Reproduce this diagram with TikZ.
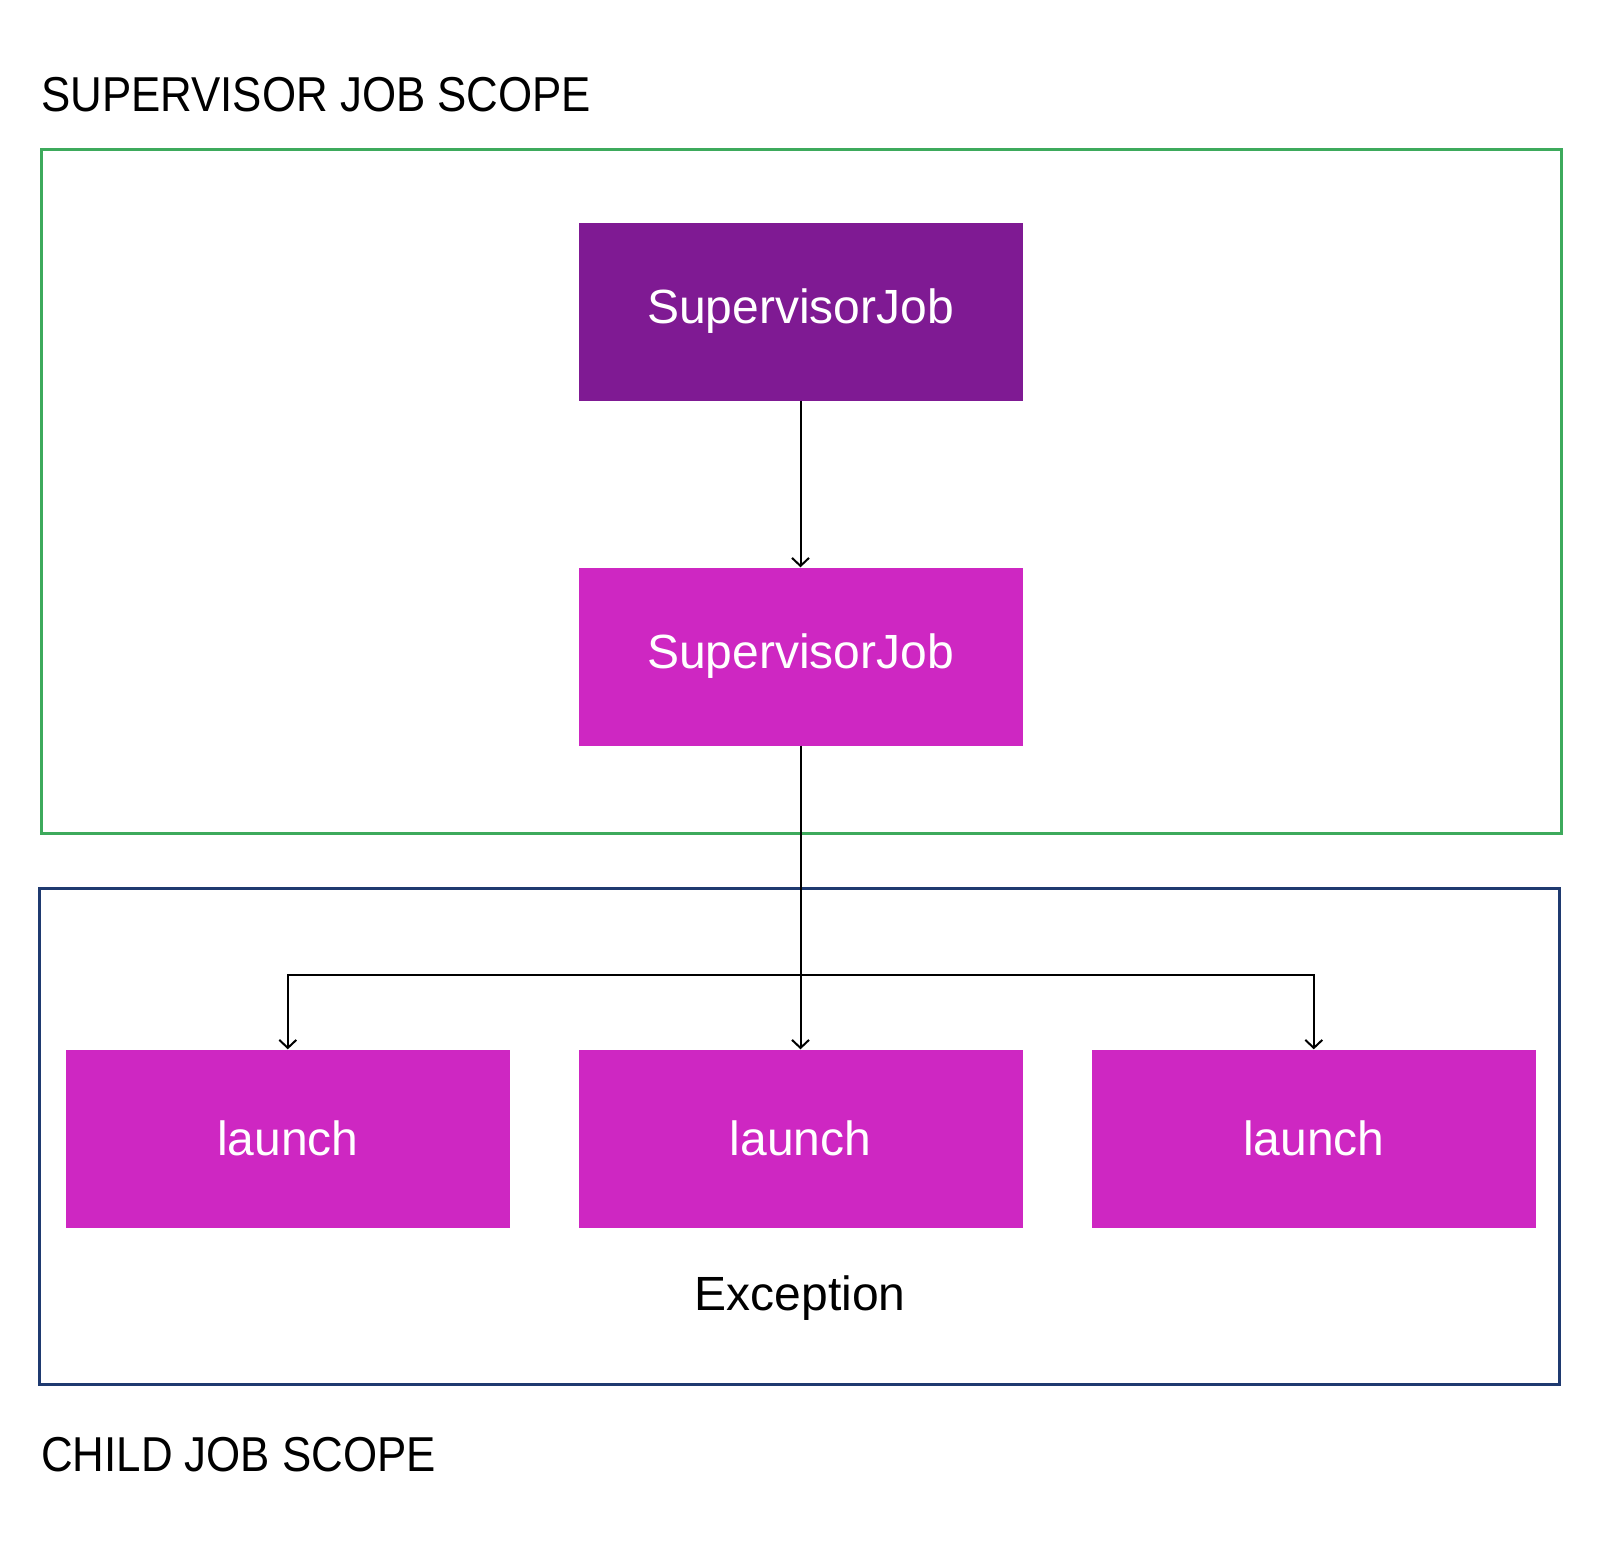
\documentclass[tikz,border=0pt]{standalone}
\usepackage{fontspec}
\setmainfont{Liberation Sans}
\newfontfamily\titlefont[FakeStretch=0.895]{Liberation Sans}
\usetikzlibrary{arrows.meta}
\definecolor{darkpurple}{HTML}{7F1A93}
\definecolor{magentabox}{HTML}{CE27C2}
\definecolor{scopegreen}{HTML}{3DAA5C}
\definecolor{scopenavy}{HTML}{1F3A70}
\tikzset{
  jobbox/.style={fill=#1, draw=none, minimum width=444pt, minimum height=178pt, inner sep=0pt, text=white, font=\fontsize{48}{55}\selectfont},
  arr/.style={draw=black, line width=2pt, -{Straight Barb[length=8pt,width=17pt,line width=2pt]}},
  scopelabel/.style={anchor=base west, inner sep=0pt, font=\titlefont\fontsize{49}{55}\selectfont},
}
\begin{document}
\begin{tikzpicture}[x=1pt,y=-1pt]
\useasboundingbox[fill=white] (0,0) rectangle (1600,1549);
% scope frames
\draw[scopegreen, line width=3pt] (41,150) rectangle (1561,833);
\draw[scopenavy, line width=3pt] (39,888) rectangle (1559,1384);
% labels
\node[scopelabel] (t1) at (41,112) {SUPERVISOR JOB SCOPE};
\node[scopelabel] (t2) at (41,1471) {CHILD JOB SCOPE};
% boxes
\node[jobbox=darkpurple] (sj1) at (800.5,311.5) {SupervisorJob};
\node[jobbox=magentabox] (sj2) at (800.5,656.5) {SupervisorJob};
\node[jobbox=magentabox] (l1) at (287.8,1138.5) {launch};
\node[jobbox=magentabox] (l2) at (800.5,1138.5) {launch};
\node[jobbox=magentabox] (l3) at (1313.8,1138.5) {launch};
\node[font=\fontsize{48}{55}\selectfont, inner sep=0pt] (exc) at (800,1298) {Exception};
% connectors
\draw[arr] (sj1.south) -- (sj2.north);
\draw[arr] (sj2.south) -- (l2.north);
\coordinate (br) at (800.5,974.5);
\draw[arr] (br) -| (l1.north);
\draw[arr] (br) -| (l3.north);
\end{tikzpicture}
\end{document}
